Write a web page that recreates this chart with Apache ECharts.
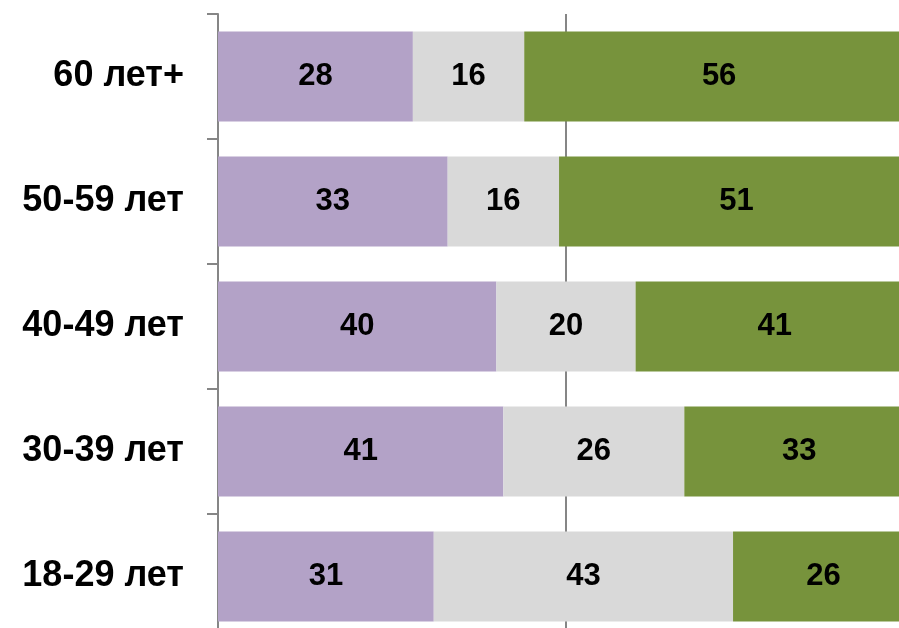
<!DOCTYPE html>
<html><head><meta charset="utf-8">
<script src="https://cdn.jsdelivr.net/npm/echarts@6/dist/echarts.min.js"></script>
<style>html,body{margin:0;padding:0;background:#fff;overflow:hidden;width:899px;height:628px}#c{width:920px;height:639px}</style>
</head><body><div id="c"></div>
<script>
const categories = ['18-29 лет', '30-39 лет', '40-49 лет', '50-59 лет', '60 лет+'];
const seriesA = [31, 41, 40, 33, 28];
const seriesB = [43, 26, 20, 16, 16];
const seriesC = [26, 33, 41, 51, 56];
const colors = ['#B3A2C7', '#D9D9D9', '#77933C'];

const chart = echarts.init(document.getElementById('c'), null, {renderer: 'canvas'});
const lbl = {show: true, position: 'inside', color: '#000', fontFamily: 'Liberation Sans, Arial', fontWeight: 'bold', fontSize: 31};
function mk(data, i) {
  return {type: 'bar', stack: 's', data: data, barWidth: 90, itemStyle: {color: colors[i]}, label: lbl, animation: false};
}
chart.setOption({
  animation: false,
  grid: {left: 218, right: 6, top: 14, bottom: 0, containLabel: false},
  xAxis: {type: 'value', min: 0, max: 100, interval: 50,
    axisLine: {show: false}, axisTick: {show: false}, axisLabel: {show: false},
    splitLine: {show: true, lineStyle: {color: ['transparent', '#868686', 'transparent'], width: 2}}},
  yAxis: {type: 'category', data: categories,
    axisLine: {show: true, lineStyle: {color: '#868686', width: 2}},
    axisTick: {show: true, length: 11, lineStyle: {color: '#868686', width: 2}},
    axisLabel: {color: '#000', fontFamily: 'Liberation Sans, Arial', fontWeight: 'bold', fontSize: 36, margin: 34}},
  series: [mk(seriesA, 0), mk(seriesB, 1), mk(seriesC, 2)]
});
</script></body></html>
